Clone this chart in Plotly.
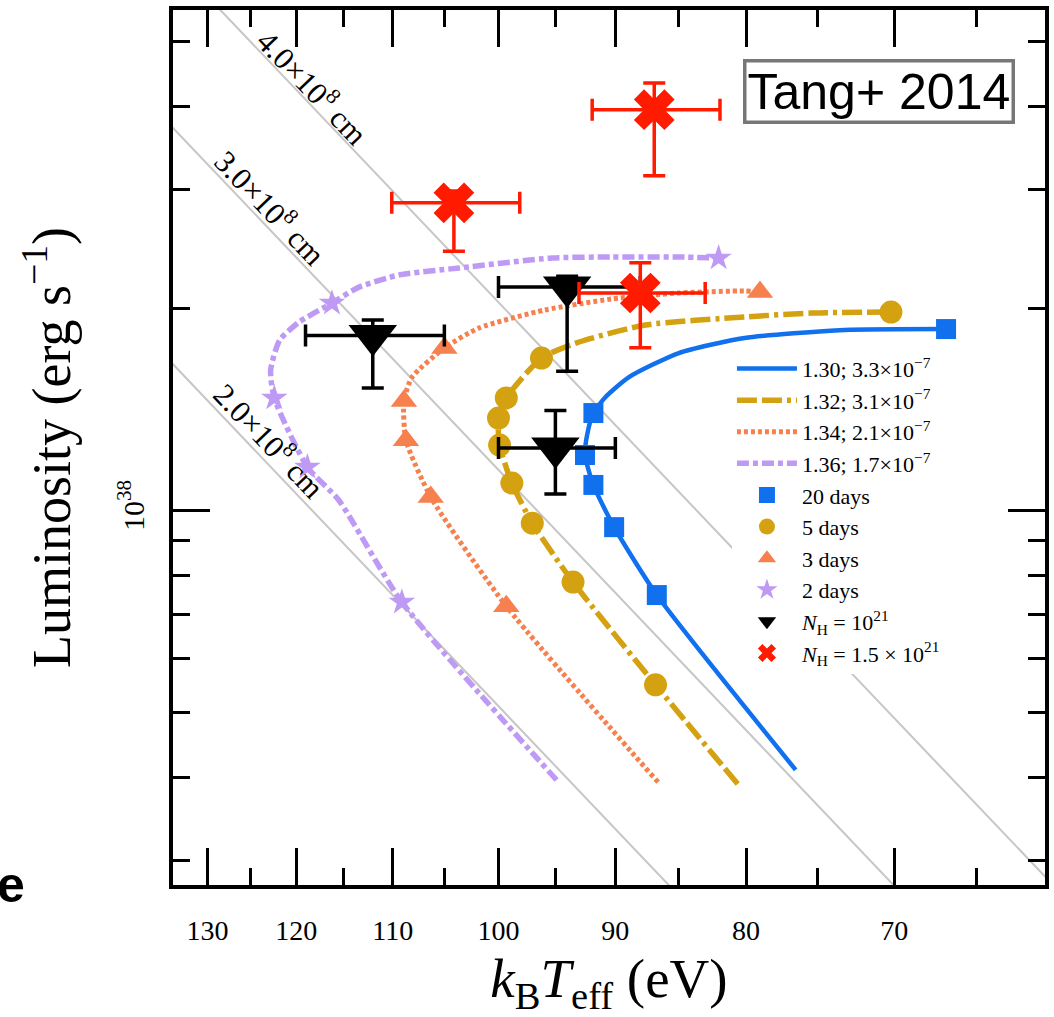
import math
import plotly.graph_objects as go

# ---------------- data (T in eV, L in units of 1e38 erg/s) ----------------
# model tracks
blue_T = [76.5, 86.7, 90.1, 91.8, 92.5, 92.3, 91.8, 90.8, 88.9, 85.0, 80.1, 73.2, 66.8]
blue_L = [0.41, 0.747, 0.943, 1.09, 1.208, 1.30, 1.395, 1.474, 1.578, 1.714, 1.805, 1.855, 1.861]
gold_T = [80.6, 86.8, 93.5, 97.0, 98.8, 99.9, 100.0, 99.3, 96.2, 93.0, 87.6, 80.1, 75.4, 70.2]
gold_L = [0.3905, 0.549, 0.781, 0.956, 1.097, 1.250, 1.371, 1.469, 1.685, 1.780, 1.887, 1.940, 1.966, 1.973]
orange_T = [86.6, 99.3, 106.3, 108.7, 108.9, 108.1, 105.0, 101.8, 95.9, 90.3, 85.0, 80.1, 79.0]
orange_L = [0.393, 0.719, 1.046, 1.271, 1.454, 1.578, 1.744, 1.867, 1.987, 2.063, 2.106, 2.121, 2.113]
purple_T = [94.9, 109.1, 115.5, 118.8, 122.4, 122.8, 121.8, 119.7, 116.2, 113.4, 109.4, 103.6, 95.3, 90.3, 85.0, 82.0]
purple_L = [0.396, 0.729, 1.035, 1.159, 1.469, 1.617, 1.792, 1.906, 2.034, 2.149, 2.240, 2.295, 2.375, 2.383, 2.383, 2.375]

# day markers
blue_mT = [86.7, 90.1, 91.8, 92.5, 91.8, 66.8]
blue_mL = [0.747, 0.943, 1.09, 1.208, 1.395, 1.861]
gold_mT = [86.8, 93.5, 97.0, 98.8, 99.9, 100.0, 99.3, 96.2, 70.2]
gold_mL = [0.549, 0.781, 0.956, 1.097, 1.250, 1.371, 1.469, 1.685, 1.973]
orange_mT = [99.3, 106.3, 108.7, 108.9, 105.0, 79.0]
orange_mL = [0.719, 1.046, 1.271, 1.454, 1.744, 2.113]
purple_mT = [109.1, 118.8, 122.4, 116.2, 82.0]
purple_mL = [0.729, 1.159, 1.469, 2.034, 2.375]

# observations, N_H = 1e21
blk_T = [112.0, 94.0, 95.0]
blk_L = [1.82, 2.15, 1.237]
blk_Terr = [7.0, 6.0, 5.0]
blk_Lup = [0.10, 0.08, 0.17]
blk_Ldn = [0.30, 0.54, 0.18]
# observations, N_H = 1.5e21
red_T = [86.9, 104.1, 88.0]
red_L = [3.95, 2.87, 2.106]
red_Terr = [5.0, 6.0, 5.0]
red_Lup = [0.38, 0.12, 0.23]
red_Ldn = [0.80, 0.44, 0.36]

# constant-radius lines (end points)
rad_T = [140.0, 55.0]
rad_L_2 = [1.959, 0.0467]
rad_L_3 = [4.408, 0.105]
rad_L_4 = [7.837, 0.1867]
rad_labels = ["4.0×10<sup>8</sup> cm", "3.0×10<sup>8</sup> cm", "2.0×10<sup>8</sup> cm"]

series_names = ["1.30; 3.3×10<sup>−7</sup>", "1.32; 3.1×10<sup>−7</sup>",
                "1.34; 2.1×10<sup>−7</sup>", "1.36; 1.7×10<sup>−7</sup>"]
marker_names = ["20 days", "5 days", "3 days", "2 days"]
obs_names = ["<i>N</i><sub>H</sub> = 10<sup>21</sup>", "<i>N</i><sub>H</sub> = 1.5 × 10<sup>21</sup>"]

x_major = [70, 80, 90, 100, 110, 120, 130]
x_minor = [65, 75, 85, 95, 105, 115, 125]
y_major = [1]
y_minor = [0.3, 0.4, 0.5, 0.6, 0.7, 0.8, 0.9, 2, 3, 4, 5]

# ---------------- style ----------------
SERIF = "Liberation Serif"
BLUE = "#1170ee"
GOLD = "#d4a111"
ORANGE = "#f7804f"
PURPLE = "#bf9af4"
RED = "#ff1a00"
GREY = "#c6c6c6"

fig = go.Figure()

for L in (rad_L_2, rad_L_3, rad_L_4):
    fig.add_trace(go.Scatter(x=rad_T, y=L, mode="lines", line=dict(color=GREY, width=2),
                             showlegend=False, hoverinfo="skip"))

curves = [
    (blue_T, blue_L, BLUE, "solid", 4.5),
    (gold_T, gold_L, GOLD, "20px,5px,20px,5px,4px,5px", 5.5),
    (orange_T, orange_L, ORANGE, "4px,3px", 5),
    (purple_T, purple_L, PURPLE, "12px,4px,5px,4px", 5.5),
]
for (T, L, c, d, w), nm in zip(curves, series_names):
    fig.add_trace(go.Scatter(x=T, y=L, mode="lines", name=nm,
                             line=dict(color=c, dash=d, width=w, shape="spline", smoothing=0.6)))

marks = [
    (blue_mT, blue_mL, BLUE, "square", 20),
    (gold_mT, gold_mL, GOLD, "circle", 23),
    (orange_mT, orange_mL, ORANGE, "triangle-up", 23),
    (purple_mT, purple_mL, PURPLE, "star", 20),
]
for (T, L, c, s, sz), nm in zip(marks, marker_names):
    fig.add_trace(go.Scatter(x=T, y=L, mode="markers", name=nm,
                             marker=dict(color=c, symbol=s, size=sz, line=dict(width=0))))

fig.add_trace(go.Scatter(
    x=blk_T, y=blk_L, mode="markers", name=obs_names[0],
    marker=dict(color="black", symbol="triangle-down", size=42),
    error_x=dict(type="data", array=blk_Terr, color="black", thickness=3.5, width=11),
    error_y=dict(type="data", array=blk_Lup, arrayminus=blk_Ldn, color="black", thickness=3.5, width=11)))
fig.add_trace(go.Scatter(
    x=red_T, y=red_L, mode="markers", name=obs_names[1],
    marker=dict(color=RED, symbol="x", size=36, line=dict(width=0)),
    error_x=dict(type="data", array=red_Terr, color=RED, thickness=3.5, width=11),
    error_y=dict(type="data", array=red_Lup, arrayminus=red_Ldn, color=RED, thickness=3.5, width=11)))

# radius labels
rad_pos = [(0.1613, 0.9131), (0.1121, 0.7749), (0.1110, 0.5086)]
for txt, (px, py) in zip(rad_labels, rad_pos):
    fig.add_annotation(x=px, y=py, xref="paper", yref="paper", text=txt, showarrow=False,
                       xanchor="center", yanchor="middle",
                       textangle=46.4, font=dict(family=SERIF, size=31, color="black"))

fig.add_annotation(x=0.8095, y=0.9063, xref="paper", yref="paper", text="Tang+ 2014",
                   showarrow=False, xanchor="center", yanchor="middle",
                   font=dict(family="Liberation Sans", size=50, color="black"),
                   bgcolor="white", bordercolor="#777777", borderwidth=3.5, borderpad=1)

fig.add_annotation(x=-0.2045, y=0.0, xref="paper", yref="paper", text="<b>e</b>",
                   showarrow=False, xanchor="left", yanchor="middle",
                   font=dict(family="Liberation Sans", size=50, color="black"))

axis_common = dict(showline=True, linewidth=4, linecolor="black", mirror="allticks",
                   ticks="inside", tickwidth=3, tickcolor="black", ticklen=37,
                   showgrid=False, zeroline=False)

fig.update_xaxes(type="log", range=[math.log10(134.1), math.log10(61.1)],
                 tickmode="array", tickvals=x_major, ticktext=[str(v) for v in x_major],
                 minor=dict(tickmode="array", tickvals=x_minor, ticks="inside", ticklen=17,
                            tickwidth=3, tickcolor="black", showgrid=False),
                 ticklabelstandoff=17,
                 tickfont=dict(family=SERIF, size=28, color="black"),
                 title=dict(text="<i>k</i><sub>B</sub><i>T</i><sub>eff</sub> (eV)",
                            font=dict(family=SERIF, size=55, color="black"), standoff=16),
                 **axis_common)
fig.update_yaxes(type="log", range=[math.log10(0.2762), math.log10(5.562)],
                 tickmode="array", tickvals=y_major, ticktext=["10<sup>38</sup>"], tickangle=-90,
                 minor=dict(tickmode="array", tickvals=y_minor, ticks="inside", ticklen=17,
                            tickwidth=3, tickcolor="black", showgrid=False),
                 ticklabelstandoff=13,
                 tickfont=dict(family=SERIF, size=30, color="black"),
                 title=dict(text="Luminosity (erg s<sup>−1</sup>)",
                            font=dict(family=SERIF, size=54, color="black"), standoff=26),
                 **axis_common)

fig.update_layout(
    width=1054, height=1017, margin=dict(l=173, r=5, t=10, b=132),
    plot_bgcolor="white", paper_bgcolor="white",
    legend=dict(x=0.641, y=0.614, xanchor="left", yanchor="top", bgcolor="white",
                borderwidth=0, font=dict(family=SERIF, size=22, color="black"),
                tracegroupgap=0, itemwidth=60, traceorder="normal"),
)

fig.write_html("out.html")
